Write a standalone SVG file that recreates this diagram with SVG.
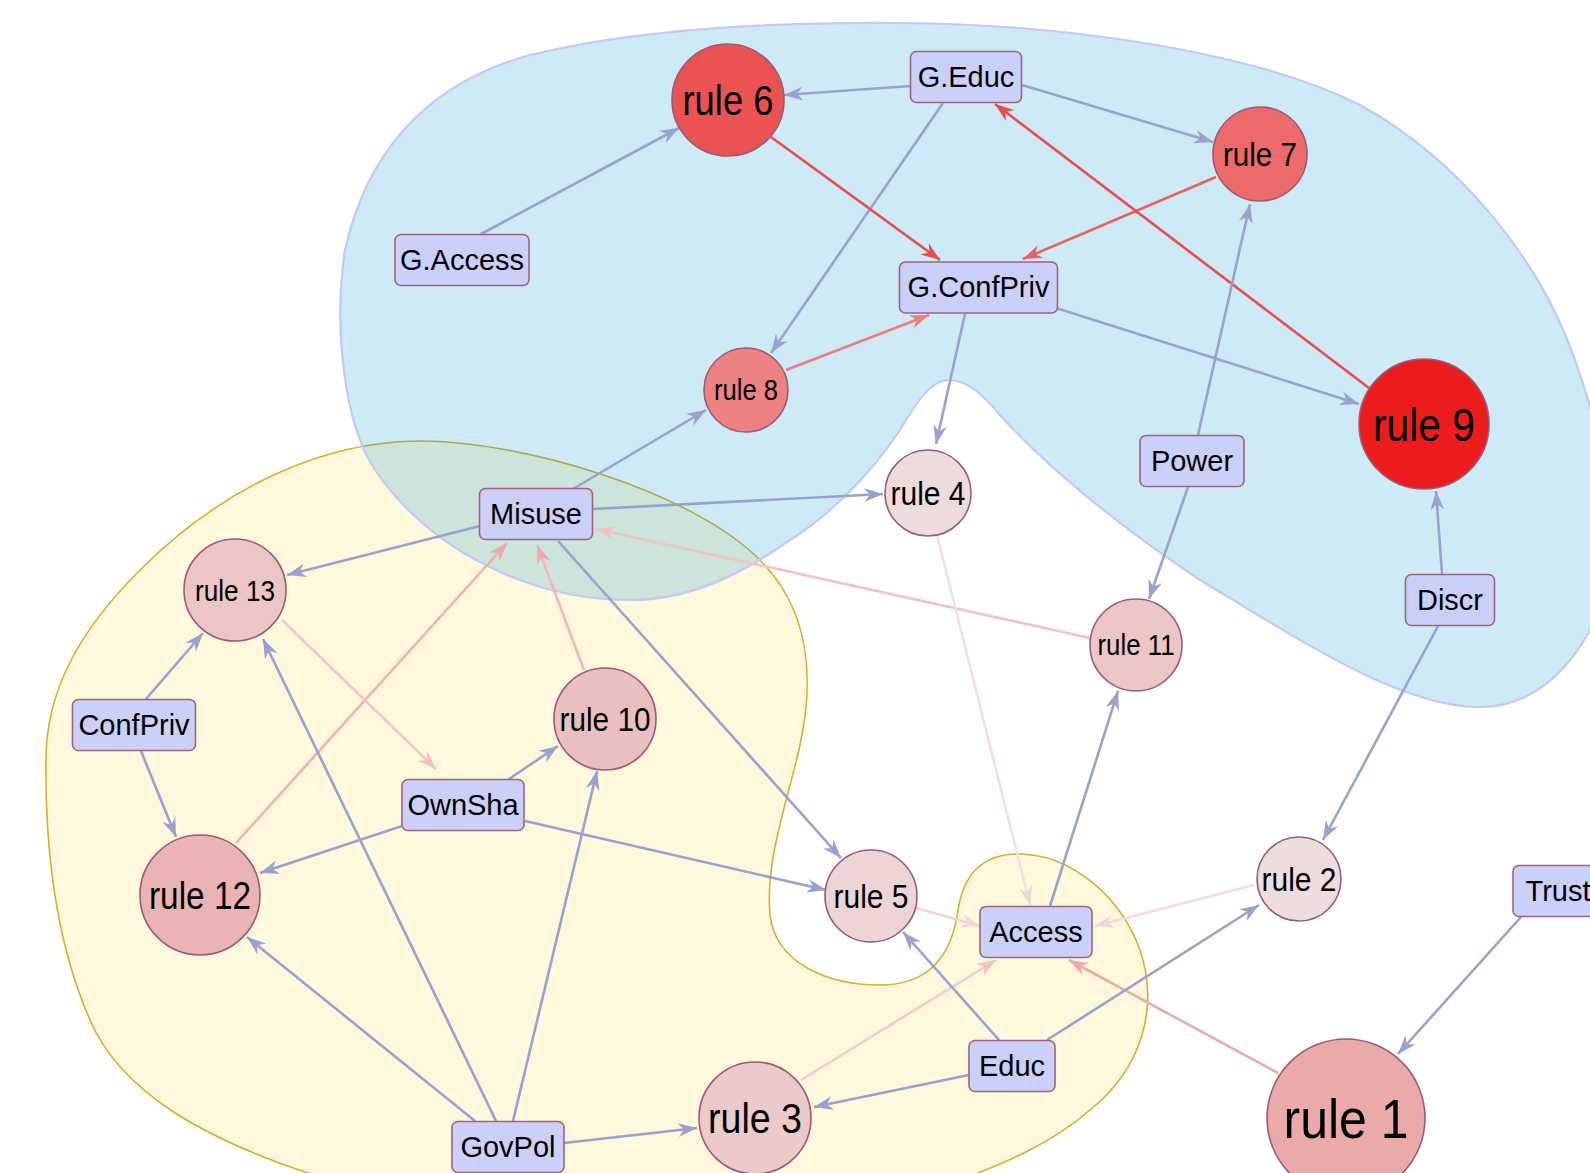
<svg xmlns="http://www.w3.org/2000/svg" width="1590" height="1173" viewBox="0 0 1590 1173">
<style>
.hy{fill:#fff8dc;stroke:#d9ae2a;stroke-width:1.6}
.hb{fill:rgb(5,150,210);fill-opacity:0.2;stroke:#c3c8f6;stroke-width:2.2}
.e{fill:none;stroke-width:2.6}
.eb{stroke:#99a1cf;marker-end:url(#mb)}
.box{fill:#cbd0fb;stroke:#a0627f;stroke-width:1.6}
.c{stroke:#9a5a78;stroke-width:1.6}
text{font-family:"Liberation Sans",Arial,sans-serif;fill:#000;text-anchor:middle}
.bl{font-size:29px}
</style>
<defs>
<marker id="mb" markerUnits="userSpaceOnUse" viewBox="-21 -8 23 16" markerWidth="23" markerHeight="16" refX="0" refY="0" orient="auto" overflow="visible"><path d="M0,0 L-19,-7 L-13,0 L-19,7 Z" fill="#99a1cf"/></marker>
<marker id="mr" markerUnits="userSpaceOnUse" viewBox="-21 -8 23 16" markerWidth="23" markerHeight="16" refX="0" refY="0" orient="auto" overflow="visible"><path d="M0,0 L-19,-7 L-13,0 L-19,7 Z" fill="#e84c4c"/></marker>
<marker id="mr2" markerUnits="userSpaceOnUse" viewBox="-21 -8 23 16" markerWidth="23" markerHeight="16" refX="0" refY="0" orient="auto" overflow="visible"><path d="M0,0 L-19,-7 L-13,0 L-19,7 Z" fill="#ec6060"/></marker>
<marker id="mr3" markerUnits="userSpaceOnUse" viewBox="-21 -8 23 16" markerWidth="23" markerHeight="16" refX="0" refY="0" orient="auto" overflow="visible"><path d="M0,0 L-19,-7 L-13,0 L-19,7 Z" fill="#ee7c7c"/></marker>
<marker id="mp1" markerUnits="userSpaceOnUse" viewBox="-21 -8 23 16" markerWidth="23" markerHeight="16" refX="0" refY="0" orient="auto" overflow="visible"><path d="M0,0 L-19,-7 L-13,0 L-19,7 Z" fill="#eeaaaa"/></marker>
<marker id="mp2" markerUnits="userSpaceOnUse" viewBox="-21 -8 23 16" markerWidth="23" markerHeight="16" refX="0" refY="0" orient="auto" overflow="visible"><path d="M0,0 L-19,-7 L-13,0 L-19,7 Z" fill="#f0c2c2"/></marker>
<marker id="mp3" markerUnits="userSpaceOnUse" viewBox="-21 -8 23 16" markerWidth="23" markerHeight="16" refX="0" refY="0" orient="auto" overflow="visible"><path d="M0,0 L-19,-7 L-13,0 L-19,7 Z" fill="#f0d8d8"/></marker>
</defs>
<g id="hulls">
<path id="hull-yellow" class="hy" d="M421,441 C520,441 690,490 760,560 C815,615 812,690 800,745 C788,800 765,860 770,915 C776,965 830,985 880,985 C930,985 952,955 958,910 C964,872 985,854 1018,854 C1070,854 1120,895 1140,950 C1160,1010 1140,1070 1090,1110 C1050,1145 1000,1165 960,1180 L330,1180 C200,1140 120,1090 90,1020 C55,940 45,850 46,760 C46,690 80,630 140,570 C220,490 320,441 421,441 Z"/>
<path id="hull-blue" class="hb" d="M345,250 C365,160 420,85 530,55 C640,28 780,22 900,23 C1060,24 1250,50 1360,105 C1460,160 1540,260 1575,360 C1610,460 1630,560 1590,630 C1560,685 1520,707 1480,707 C1400,707 1300,640 1200,580 C1110,520 1040,460 1000,415 C985,397 968,380 949,380 C930,380 915,405 900,430 C870,475 830,515 790,540 C740,575 690,600 630,600 C530,600 430,550 375,470 C345,425 333,330 345,250 Z"/>
</g>
<g id="connectors">
<line class="e eb" x1="911" y1="86" x2="784" y2="95"/>
<line class="e eb" x1="1022" y1="85" x2="1213" y2="142"/>
<line class="e eb" x1="943" y1="103" x2="771" y2="353"/>
<line class="e eb" x1="481" y1="234" x2="679" y2="128"/>
<line class="e" stroke="#e84c4c" marker-end="url(#mr)" x1="771" y1="137" x2="940" y2="260"/>
<line class="e" stroke="#ec6060" marker-end="url(#mr2)" x1="1216" y1="177" x2="1023" y2="259"/>
<line class="e" stroke="#e84c4c" marker-end="url(#mr)" x1="1369" y1="388" x2="995" y2="104"/>
<line class="e" stroke="#ee7c7c" marker-end="url(#mr3)" x1="786" y1="370" x2="929" y2="315"/>
<line class="e eb" x1="965" y1="314" x2="936" y2="444"/>
<line class="e eb" x1="1056" y1="308" x2="1359" y2="404"/>
<line class="e eb" x1="1198" y1="435" x2="1250" y2="204"/>
<line class="e eb" x1="1188" y1="487" x2="1149" y2="599"/>
<line class="e eb" x1="1442" y1="574" x2="1436" y2="491"/>
<line class="e eb" x1="1438" y1="626" x2="1323" y2="840"/>
<line class="e eb" x1="573" y1="489" x2="706" y2="410"/>
<line class="e eb" x1="593" y1="509" x2="883" y2="494"/>
<line class="e eb" x1="480" y1="526" x2="287" y2="575"/>
<line class="e eb" x1="558" y1="541" x2="841" y2="858"/>
<line class="e" stroke="#f0c4c4" stroke-width="2.2" marker-end="url(#mp2)" x1="1090" y1="638" x2="596" y2="529"/>
<line class="e" stroke="#efb2b2" stroke-width="2.2" marker-end="url(#mp1)" x1="236" y1="843" x2="507" y2="543"/>
<line class="e" stroke="#f0b8b8" stroke-width="2.2" marker-end="url(#mp1)" x1="584" y1="670" x2="537" y2="545"/>
<line class="e" stroke="#f0c8c8" stroke-width="2.2" marker-end="url(#mp2)" x1="282" y1="620" x2="436" y2="769"/>
<line class="e eb" x1="146" y1="699" x2="203" y2="633"/>
<line class="e eb" x1="141" y1="751" x2="176" y2="837"/>
<line class="e eb" x1="509" y1="779" x2="558" y2="746"/>
<line class="e eb" x1="402" y1="826" x2="260" y2="873"/>
<line class="e eb" x1="525" y1="821" x2="826" y2="890"/>
<line class="e eb" x1="475" y1="1121" x2="247" y2="937"/>
<line class="e eb" x1="496" y1="1121" x2="263" y2="639"/>
<line class="e eb" x1="513" y1="1121" x2="597" y2="771"/>
<line class="e eb" x1="564" y1="1143" x2="697" y2="1128"/>
<line class="e" stroke="#f0e0e0" stroke-width="2.2" marker-end="url(#mp3)" x1="937" y1="535" x2="1030" y2="905"/>
<line class="e" stroke="#f0d4d4" stroke-width="2.2" marker-end="url(#mp3)" x1="916" y1="908" x2="980" y2="926"/>
<line class="e" stroke="#f0dcdc" stroke-width="2.2" marker-end="url(#mp3)" x1="1254" y1="885" x2="1095" y2="926"/>
<line class="e" stroke="#f0cccc" stroke-width="2.2" marker-end="url(#mp2)" x1="801" y1="1080" x2="996" y2="960"/>
<line class="e" stroke="#eeaaaa" stroke-width="2.4" marker-end="url(#mp1)" x1="1278" y1="1073" x2="1069" y2="960"/>
<line class="e eb" x1="1050" y1="906" x2="1118" y2="691"/>
<line class="e eb" x1="999" y1="1040" x2="903" y2="932"/>
<line class="e eb" x1="969" y1="1075" x2="814" y2="1107"/>
<line class="e eb" x1="1047" y1="1040" x2="1259" y2="905"/>
<line class="e eb" x1="1521" y1="917" x2="1398" y2="1054"/>
</g>
<g id="n-rule6"><circle class="c" cx="728" cy="100" r="56" fill="#eb5252"/><text x="728" y="115" font-size="42" textLength="91" lengthAdjust="spacingAndGlyphs">rule 6</text></g>
<g id="n-rule7"><circle class="c" cx="1260" cy="154" r="47" fill="#ec6a6a"/><text x="1260" y="166" font-size="34" textLength="74" lengthAdjust="spacingAndGlyphs">rule 7</text></g>
<g id="n-rule8"><circle class="c" cx="746" cy="390" r="42" fill="#ee8282"/><text x="746" y="400" font-size="29" textLength="64" lengthAdjust="spacingAndGlyphs">rule 8</text></g>
<g id="n-rule9"><circle class="c" cx="1424" cy="424" r="65" fill="#ec1c1c"/><text x="1424" y="441" font-size="47" textLength="102" lengthAdjust="spacingAndGlyphs">rule 9</text></g>
<g id="n-rule4"><circle class="c" cx="928" cy="493" r="43" fill="#eddcdc"/><text x="928" y="505" font-size="34" textLength="75" lengthAdjust="spacingAndGlyphs">rule 4</text></g>
<g id="n-rule13"><circle class="c" cx="235" cy="590" r="51" fill="#ecc5c5"/><text x="235" y="601" font-size="30" textLength="80" lengthAdjust="spacingAndGlyphs">rule 13</text></g>
<g id="n-rule10"><circle class="c" cx="605" cy="719" r="51" fill="#ebbfbf"/><text x="605" y="731" font-size="34" textLength="91" lengthAdjust="spacingAndGlyphs">rule 10</text></g>
<g id="n-rule11"><circle class="c" cx="1136" cy="645" r="46" fill="#ecc5c5"/><text x="1136" y="655" font-size="29" textLength="77" lengthAdjust="spacingAndGlyphs">rule 11</text></g>
<g id="n-rule12"><circle class="c" cx="200" cy="895" r="60" fill="#ebb4b4"/><text x="200" y="909" font-size="38" textLength="102" lengthAdjust="spacingAndGlyphs">rule 12</text></g>
<g id="n-rule5"><circle class="c" cx="871" cy="896" r="46" fill="#edd5d6"/><text x="871" y="908" font-size="34" textLength="75" lengthAdjust="spacingAndGlyphs">rule 5</text></g>
<g id="n-rule2"><circle class="c" cx="1299" cy="879" r="42" fill="#eddddd"/><text x="1299" y="891" font-size="34" textLength="75" lengthAdjust="spacingAndGlyphs">rule 2</text></g>
<g id="n-rule3"><circle class="c" cx="755" cy="1118" r="56" fill="#eccaca"/><text x="755" y="1133" font-size="43" textLength="94" lengthAdjust="spacingAndGlyphs">rule 3</text></g>
<g id="n-rule1"><circle class="c" cx="1346" cy="1118" r="79" fill="#ebaaaa"/><text x="1346" y="1138" font-size="56" textLength="125" lengthAdjust="spacingAndGlyphs">rule 1</text></g>
<g id="n-GEduc"><rect class="box" x="910.5" y="51.5" width="111" height="51" rx="6"/><text class="bl" x="966" y="87">G.Educ</text></g>
<g id="n-GAccess"><rect class="box" x="395" y="234.5" width="134" height="51" rx="6"/><text class="bl" x="462" y="270">G.Access</text></g>
<g id="n-GConfPriv"><rect class="box" x="899.5" y="262" width="158" height="51" rx="6"/><text class="bl" x="978.5" y="297">G.ConfPriv</text></g>
<g id="n-Power"><rect class="box" x="1140" y="435.5" width="104" height="51" rx="6"/><text class="bl" x="1192" y="471">Power</text></g>
<g id="n-Discr"><rect class="box" x="1405.5" y="574.5" width="89" height="51" rx="6"/><text class="bl" x="1450" y="610">Discr</text></g>
<g id="n-Misuse"><rect class="box" x="479.5" y="488.5" width="113" height="51" rx="6"/><text class="bl" x="536" y="524">Misuse</text></g>
<g id="n-ConfPriv"><rect class="box" x="72.5" y="699.5" width="123" height="51" rx="6"/><text class="bl" x="134" y="735">ConfPriv</text></g>
<g id="n-OwnSha"><rect class="box" x="402" y="779.5" width="122" height="51" rx="6"/><text class="bl" x="463" y="815">OwnSha</text></g>
<g id="n-Access"><rect class="box" x="980" y="906.5" width="112" height="51" rx="6"/><text class="bl" x="1036" y="942">Access</text></g>
<g id="n-Educ"><rect class="box" x="969" y="1040.5" width="86" height="51" rx="6"/><text class="bl" x="1012" y="1076">Educ</text></g>
<g id="n-GovPol"><rect class="box" x="452" y="1121.5" width="112" height="51" rx="6"/><text class="bl" x="508" y="1157">GovPol</text></g>
<g id="n-Trust"><rect class="box" x="1513" y="865.5" width="90" height="51" rx="6"/><text class="bl" x="1558" y="901">Trust</text></g>
</svg>
